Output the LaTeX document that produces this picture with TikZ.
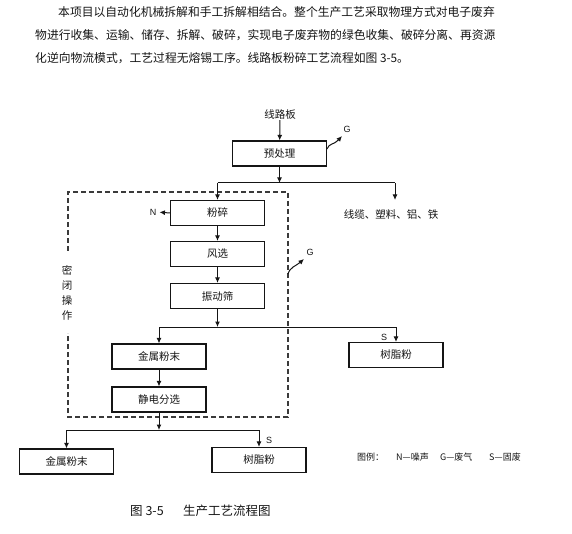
\documentclass[tikz,border=0pt]{standalone}
\usepackage{fontspec}
\setmainfont{Noto Sans CJK SC}
\setsansfont{Liberation Sans}
\usetikzlibrary{arrows.meta}
\definecolor{InkBlack}{HTML}{151515}
\definecolor{FrameGray}{HTML}{3A3A3A}

\begin{document}
\begin{tikzpicture}[x=1pt,y=-1pt,
  every node/.style={font=\fontsize{10.5}{12}\selectfont, inner sep=0pt, text=InkBlack},
  procbox/.style={draw=InkBlack, line width=1.2pt, minimum width=94pt, minimum height=25pt},
  flow/.style={draw=InkBlack, line width=1pt, -{Latex[length=5.5pt,width=5pt]}},
  plain/.style={draw=InkBlack, line width=1pt},
  seal/.style={draw=FrameGray, line width=1.1pt, dash pattern=on 5pt off 3pt},
  tag/.style={font=\sffamily\fontsize{9}{10}\selectfont},
  note/.style={font=\fontsize{9}{10}\selectfont, anchor=west},
  para/.style={anchor=west}]
  \useasboundingbox (0,0) rectangle (572,534);
  % text above the chart
  \node[para, font=\fontsize{11.8}{14}\selectfont] (paraA) at (58,12) {本项目以自动化机械拆解和手工拆解相结合。整个生产工艺采取物理方式对电子废弃};
  \node[para, font=\fontsize{11.8}{14}\selectfont] (paraB) at (35,35) {物进行收集、运输、储存、拆解、破碎，实现电子废弃物的绿色收集、破碎分离、再资源};
  \node[para, font=\fontsize{11.8}{14}\selectfont] (paraC) at (35,58) {化逆向物流模式，工艺过程无熔锡工序。线路板粉碎工艺流程如图 3-5。};
  % process boxes
  \node (pcb) at (280,115) {线路板};
  \node[procbox] (pre) at (279.5,153.5) {预处理};
  \node[procbox] (crush) at (217.5,213) {粉碎};
  \node[procbox] (wind) at (217.5,254) {风选};
  \node[procbox] (sieve) at (217.5,296) {振动筛};
  \node[procbox] (metalA) at (159,356.5) {金属粉末};
  \node[procbox] (esep) at (159,399.5) {静电分选};
  \node[procbox] (resinA) at (396,355) {树脂粉};
  \node[procbox] (metalB) at (66.5,461.5) {金属粉末};
  \node[procbox] (resinB) at (259,460) {树脂粉};
  \node (scrap) at (391,215) {线缆、塑料、铝、铁};
  % sealed zone
  \draw[seal] (68,251) -- (68,192) -- (288,192) -- (288,417) -- (68,417) -- (68,333);
  \node[align=center, font=\fontsize{10.5}{15}\selectfont] (sealtxt) at (67,293) {密\\闭\\操\\作};
  % emission tags
  \node[tag] (gA) at (347,129) {G};
  \node[tag] (gB) at (310,252) {G};
  \node[tag] (noiseN) at (153,212) {N};
  \node[tag] (sA) at (384,337) {S};
  \node[tag] (sB) at (269,440) {S};
  % branch points
  \coordinate (splitA) at (279.5,183);
  \coordinate (leftA) at (217.5,183);
  \coordinate (rightA) at (395,183);
  \coordinate (endA) at (395,200);
  \coordinate (splitB) at (217.5,327);
  \coordinate (leftB) at (159,327);
  \coordinate (rightB) at (396,327);
  \coordinate (splitC) at (159,430);
  \coordinate (leftC) at (66.5,430);
  \coordinate (rightC) at (259,430);
  \coordinate (gasA) at (327,149);
  \coordinate (gasAtip) at (342,136);
  \coordinate (gasB) at (288,274);
  \coordinate (gasBtip) at (304,259);
  % connectors
  \draw[flow] (pcb) -- (pre);
  \draw[flow] (pre) -- (splitA);
  \draw[plain] (leftA) -- (rightA);
  \draw[flow] (leftA) -- (crush);
  \draw[flow] (rightA) -- (endA);
  \draw[flow] (crush) -- (wind);
  \draw[flow] (wind) -- (sieve);
  \draw[flow, shorten >=3pt] (crush.west) -- (noiseN.east);
  \draw[flow] (sieve) -- (splitB);
  \draw[plain] (leftB) -- (rightB);
  \draw[flow] (leftB) -- (metalA);
  \draw[flow] (rightB) -- (resinA);
  \draw[flow] (metalA) -- (esep);
  \draw[flow] (esep) -- (splitC);
  \draw[plain] (leftC) -- (rightC);
  \draw[flow] (leftC) -- (metalB);
  \draw[flow] (rightC) -- (resinB);
  \draw[flow] (gasA) .. controls (329,143) and (334,145) .. (gasAtip);
  \draw[flow] (gasB) .. controls (290,267) and (296,266) .. (gasBtip);
  % legend and caption
  \node[note] (legA) at (357,457) {图例：};
  \node[note] (legN) at (396,457) {N—噪声};
  \node[note] (legG) at (440,457) {G—废气};
  \node[note] (legS) at (489,457) {S—固废};
  \node[anchor=west, font=\fontsize{12.5}{14}\selectfont] (capA) at (130,511) {图 3-5};
  \node[anchor=west, font=\fontsize{12.5}{14}\selectfont] (capB) at (183,511) {生产工艺流程图};
\end{tikzpicture}
\end{document}
